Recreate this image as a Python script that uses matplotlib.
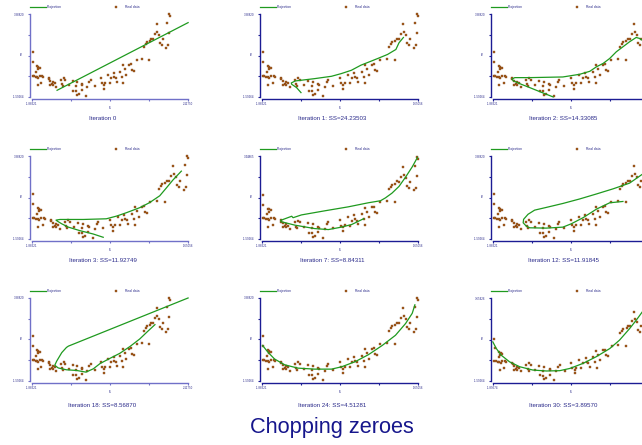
# Imports
import numpy as np
import matplotlib
matplotlib.use('Agg')
import matplotlib.pyplot as plt
from matplotlib.lines import Line2D

plt.rcParams['font.family'] = ['Liberation Sans', 'DejaVu Sans']

# Real data (t1, t2 scores), the same in every panel
real_t1 = [-1.87, -1.85, -1.75, -1.72, -1.73, -1.69, -1.77, -1.87, -1.83, -1.79,
           -1.75, -1.72, -1.68, -1.62, -1.60, -1.74, -1.64, -1.46, -1.45, -1.41,
           -1.37, -1.41, -1.34, -1.30, -1.26, -1.34, -1.14, -1.11, -1.08, -1.07,
           -1.03, -0.93, -0.84, -0.82, -0.75, -0.73, -0.73, -0.76, -0.69, -0.61,
           -0.59, -0.61, -0.50, -0.46, -0.42, -0.38, -0.27, -0.12, -0.09, -0.04,
           -0.04, 0.00, 0.07, 0.11, 0.15, 0.21, 0.23, 0.27, 0.30, 0.38,
           0.42, 0.44, 0.46, 0.49, 0.53, 0.61, 0.65, 0.67, 0.72, 0.80,
           0.95, 0.99, 1.03, 1.06, 1.13, 1.14, 1.18, 1.22, 1.26, 1.31,
           1.33, 1.37, 1.41, 1.45, 1.48, 1.56, 1.58, 1.60, 1.62, 1.65, 1.62]
real_t2 = [1.09, 0.50, 0.24, 0.20, 0.07, 0.14, -0.07, -0.31, -0.33, -0.37,
           -0.37, -0.43, -0.33, -0.31, -0.37, -0.88, -0.74, -0.43, -0.54, -0.62,
           -0.82, -0.88, -0.88, -0.78, -0.98, -0.68, -0.58, -0.84, -0.94, -0.48,
           -0.58, -0.88, -0.64, -1.23, -1.25, -0.68, -1.45, -0.94, -1.39, -0.84,
           -0.90, -1.19, -1.55, -0.98, -0.68, -0.58, -0.94, -0.43, -0.78, -0.88,
           -1.09, -0.74, -0.27, -0.78, -0.48, -0.13, -0.37, -0.48, -0.68, -0.07,
           -0.37, 0.30, -0.74, 0.07, -0.27, 0.34, 0.38, 0.03, -0.01, 0.64,
           0.70, 1.42, 1.56, 1.70, 0.64, 1.76, 1.90, 1.86, 2.17, 2.78,
           2.31, 2.11, 1.62, 1.50, 1.86, 1.36, 2.84, 1.50, 3.39, 3.25, 2.23]

# Projection curves for each iteration
iter0_t1 = [-1.24, 2.12]
iter0_t2 = [-1.19, 2.87]

iter1_t1 = [-1.00, -1.10, -1.21, -1.22, -1.13, -0.69, -0.31, -0.09, 0.14, 0.36,
            0.59, 0.74, 0.96, 1.15, 1.22, 1.32]
iter1_t2 = [-1.33, -1.03, -0.83, -0.75, -0.63, -0.49, -0.35, -0.19, 0.01, 0.32,
            0.56, 0.72, 0.96, 1.26, 1.66, 1.98]

iter2_t1 = [-0.52, -0.75, -1.05, -1.28, -1.43, -1.45, -1.39, -1.05, -0.30, 0.08,
            0.31, 0.46, 0.61, 0.76, 0.91, 1.06, 1.21, 1.36, 1.44, 1.55]
iter2_t2 = [-1.59, -1.35, -1.03, -0.79, -0.61, -0.51, -0.43, -0.43, -0.39, -0.23,
            -0.05, 0.22, 0.42, 0.72, 1.12, 1.42, 1.72, 1.98, 1.92, 1.72]

iter3_t1 = [-0.27, -0.50, -0.80, -1.06, -1.21, -1.31, -1.34, -1.25, -0.72, -0.20,
            0.03, 0.26, 0.56, 0.78, 1.01, 1.16, 1.31, 1.50]
iter3_t2 = [-1.49, -1.29, -1.09, -0.88, -0.68, -0.52, -0.46, -0.42, -0.42, -0.38,
            -0.22, -0.01, 0.29, 0.59, 1.00, 1.47, 1.95, 2.48]

iter7_t1 = [0.42, 0.15, -0.08, -0.38, -0.69, -1.14, -1.45, -1.46, -1.34, -1.21,
            -1.18, -0.99, -0.46, 0.07, 0.53, 0.80, 0.91, 1.06, 1.22, 1.37, 1.52, 1.64]
iter7_t2 = [-0.36, -0.71, -0.87, -1.02, -0.96, -0.75, -0.54, -0.46, -0.34, -0.21,
            -0.30, -0.13, 0.12, 0.36, 0.61, 0.73, 0.90, 1.19, 1.60, 2.17, 2.79, 3.37]

iter12_t1 = [1.06, 0.76, 0.46, 0.16, -0.11, -0.30, -0.68, -1.05, -1.13, -1.20,
             -1.19, -1.09, -0.94, -0.68, -0.30, 0.08, 0.46, 0.84, 1.21, 1.52]
iter12_t2 = [0.66, 0.58, 0.20, -0.31, -0.68, -0.88, -0.94, -0.92, -0.82, -0.62,
             -0.41, -0.11, 0.14, 0.30, 0.54, 0.81, 1.11, 1.42, 1.76, 2.33]

iter18_t1 = [1.27, 1.09, 0.88, 0.63, 0.37, 0.11, -0.14, -0.31, -0.50, -0.74,
             -1.00, -1.21, -1.30, -1.25, -1.12, -1.00, -0.95, 2.12]
iter18_t2 = [1.79, 1.40, 0.93, 0.48, 0.07, -0.24, -0.55, -0.86, -1.06, -0.96,
             -0.92, -0.81, -0.65, -0.40, 0.11, 0.42, 0.50, 3.39]

iter24_t1 = [-1.87, -1.75, -1.60, -1.37, -1.07, -0.69, -0.31, -0.08, 0.23, 0.53,
             0.84, 1.14, 1.37, 1.52, 1.58]
iter24_t2 = [0.54, 0.14, -0.27, -0.62, -0.82, -0.88, -0.88, -0.74, -0.43, -0.01,
             0.54, 1.15, 1.86, 2.47, 2.98]

iter30_t1 = [-1.90, -1.82, -1.71, -1.52, -1.29, -0.99, -0.68, -0.38, -0.15, 0.15,
             0.45, 0.76, 0.98, 1.21, 1.36, 1.51]
iter30_t2 = [0.88, 0.46, 0.04, -0.38, -0.69, -0.90, -0.96, -0.94, -0.80, -0.48,
             -0.06, 0.46, 0.99, 1.72, 2.25, 2.82]

proj_t1 = [iter0_t1, iter1_t1, iter2_t1, iter3_t1, iter7_t1, iter12_t1,
           iter18_t1, iter24_t1, iter30_t1]
proj_t2 = [iter0_t2, iter1_t2, iter2_t2, iter3_t2, iter7_t2, iter12_t2,
           iter18_t2, iter24_t2, iter30_t2]

captions = ["Iteration 0", "Iteration 1: SS=24.23503", "Iteration 2: SS=14.33085",
            "Iteration 3: SS=11.92749", "Iteration 7: SS=8.84311", "Iteration 12: SS=11.91845",
            "Iteration 18: SS=8.56870", "Iteration 24: SS=4.51281", "Iteration 30: SS=3.89570"]

# Axis ranges shown on the tick labels
x_low = [-1.88321, -1.88321, -1.88321, -1.88321, -1.88321, -1.88321, -1.88321, -1.88321, -1.89574]
x_high = [2.11750, 1.65056, 1.65056, 1.65056, 1.65056, 1.65056, 2.11750, 1.65056, 1.65056]
y_low = [-1.59264] * 9
y_high = [3.38820, 3.38820, 3.38820, 3.38820, 3.44865, 3.38820, 3.38820, 3.38820, 3.65426]

# Colours
green = '#1f9a1f'
brown = '#a8601e'
brown_edge = '#7a3c10'
navy = '#1c1c94'
light_navy = '#7070c8'
text_navy = '#2a2a8a'

W, H = 642.0, 445.0
col_left = [32, 262, 493]
row_top = [14, 156, 298]
caption_gap = [22, 21.5, 24.5]
ax_w, ax_h = 156.0, 83.0


def drawPanel(fig, i):
    r, c = divmod(i, 3)
    ax = fig.add_axes([col_left[c] / W, 1 - (row_top[r] + ax_h) / H, ax_w / W, ax_h / H])
    ax.patch.set_alpha(0)
    axis_col = light_navy if c == 0 else navy

    # Data and projection
    ax.plot(proj_t1[i], proj_t2[i], color=green, lw=0.9, clip_on=False, zorder=3)
    ax.plot(real_t1, real_t2, ls='none', marker='s', ms=1.7, mfc=brown,
            mec=brown_edge, mew=0.25, clip_on=False, zorder=2)

    ax.set_xlim(x_low[i], x_high[i])
    ax.set_ylim(y_low[i], y_high[i])

    # Axes styling
    for s in ['top', 'right']:
        ax.spines[s].set_visible(False)
    ax.spines['left'].set_position(('outward', 1.8))
    ax.spines['bottom'].set_position(('outward', 1.5))
    for s in ['left', 'bottom']:
        ax.spines[s].set_color(axis_col)
        ax.spines[s].set_linewidth(1.0)

    xt = np.linspace(x_low[i], x_high[i], 5)
    yt = np.linspace(y_low[i], y_high[i], 5)
    ax.set_xticks(xt)
    ax.set_yticks(yt)
    ax.set_xticklabels(['%.5f' % x_low[i], '', '', '', '%.5f' % x_high[i]])
    ax.set_yticklabels(['%.5f' % y_low[i], '', '', '', '%.5f' % y_high[i]])
    ax.tick_params(axis='both', direction='out', length=1.2, width=0.8,
                   color=axis_col, labelsize=2.1, labelcolor=text_navy)
    ax.tick_params(axis='y', pad=2.6)
    ax.tick_params(axis='x', pad=0.8)

    ax.set_xlabel('t1', fontsize=2.4, color=text_navy)
    ax.set_ylabel('t2', fontsize=2.4, color=text_navy, rotation=0, ha='center', va='center')
    ax.xaxis.set_label_coords(0.5, -9.0 / ax_h)
    ax.yaxis.set_label_coords(-11.0 / ax_w, 0.5)

    # Legend above the panel
    handles = [Line2D([], [], color=green, lw=0.9),
               Line2D([], [], ls='none', marker='s', ms=1.7, mfc=brown, mec=brown_edge, mew=0.25)]
    ax.legend(handles, ['Projection', 'Real data'], loc='center left',
              bbox_to_anchor=(-2.5 / ax_w, 1 + 7.0 / ax_h), ncol=2, frameon=False,
              fontsize=2.4, handlelength=4.8, handletextpad=0.3, columnspacing=14,
              borderpad=0, borderaxespad=0, labelcolor=text_navy)

    # Caption under the panel
    ax.text(0.5 - 7.5 / ax_w, -caption_gap[r] / ax_h, captions[i], transform=ax.transAxes,
            ha='center', va='center', fontsize=4.4, color=text_navy)


fig = plt.figure(figsize=(6.42, 4.45), dpi=100)
for i in range(9):
    drawPanel(fig, i)

fig.text(332 / W, 1 - 428 / H, 'Chopping zeroes', ha='center', va='center',
         fontsize=15.7, color='#16168c')

fig.savefig('out.png', dpi=100)
